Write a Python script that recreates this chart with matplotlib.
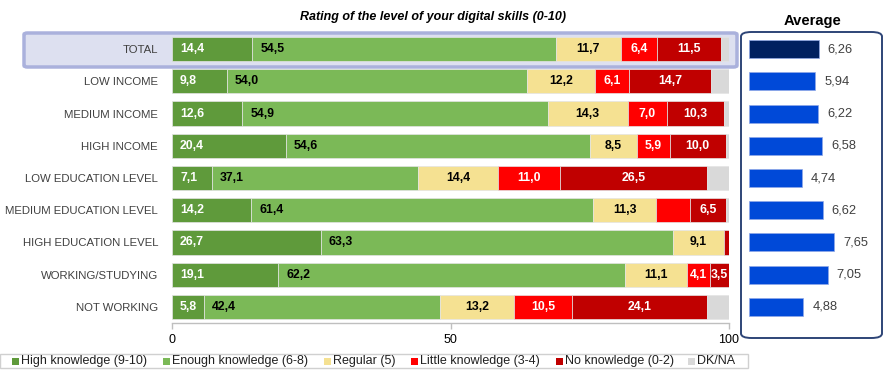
import matplotlib
matplotlib.use("Agg")
import matplotlib.pyplot as plt
from matplotlib.patches import FancyBboxPatch, Rectangle

plt.rcParams['font.family'] = ['Liberation Sans', 'DejaVu Sans']

categories = ["TOTAL", "LOW INCOME", "MEDIUM INCOME", "HIGH INCOME", "LOW EDUCATION LEVEL",
              "MEDIUM EDUCATION LEVEL", "HIGH EDUCATION LEVEL", "WORKING/STUDYING", "NOT WORKING"]
series_names = ["High knowledge (9-10)", "Enough knowledge (6-8)", "Regular (5)",
                "Little knowledge (3-4)", "No knowledge (0-2)", "DK/NA"]
high = [14.4, 9.8, 12.6, 20.4, 7.1, 14.2, 26.7, 19.1, 5.8]
enough = [54.5, 54.0, 54.9, 54.6, 37.1, 61.4, 63.3, 62.2, 42.4]
regular = [11.7, 12.2, 14.3, 8.5, 14.4, 11.3, 9.1, 11.1, 13.2]
little = [6.4, 6.1, 7.0, 5.9, 11.0, 6.1, 0.0, 4.1, 10.5]
noknow = [11.5, 14.7, 10.3, 10.0, 26.5, 6.5, 0.9, 3.5, 24.1]
dkna = [1.5, 3.2, 0.9, 0.6, 3.9, 0.5, 0.0, 0.0, 4.0]
average = [6.26, 5.94, 6.22, 6.58, 4.74, 6.62, 7.65, 7.05, 4.88]
x_ticks = [0, 50, 100]

series = [high, enough, regular, little, noknow, dkna]
colors = ["#5f9a3b", "#7bb957", "#f5e192", "#ff0000", "#c00000", "#d9d9d9"]
text_colors = ["white", "black", "black", "white", "white", None]
left_aligned = [True, True, False, False, False, False]
hidden = {(5, 3), (6, 3), (6, 4)}

W, H = 886, 376
fig = plt.figure(figsize=(W / 100, H / 100), dpi=100)

def fx(px):
    return px / W

def fy(py):
    return 1 - py / H

# TOTAL highlight box
hl = FancyBboxPatch((fx(24), fy(67)), fx(737) - fx(24), fy(33) - fy(67),
                    boxstyle="round,pad=0,rounding_size=0.004", transform=fig.transFigure,
                    facecolor="#dde0f0", edgecolor="#aab1dc", linewidth=2.5, zorder=-5)
fig.add_artist(hl)

# Average panel box
ab = FancyBboxPatch((fx(741), fy(338)), fx(882) - fx(741), fy(32) - fy(338),
                    boxstyle="round,pad=0,rounding_size=0.012", transform=fig.transFigure,
                    facecolor="white", edgecolor="#2e4577", linewidth=1.4, zorder=-5)
fig.add_artist(ab)

ax = fig.add_axes([fx(172), fy(323), fx(729) - fx(172), fy(33) - fy(323)])
ax.set_facecolor("none")
n = len(categories)
ypos = list(range(n))
lefts = [0.0] * n
for s, (vals, col) in enumerate(zip(series, colors)):
    ax.barh(ypos, vals, left=lefts, height=0.75, color=col, edgecolor="#e4e4e4",
            linewidth=0.5, zorder=2)
    if text_colors[s] is not None:
        for i in range(n):
            v = vals[i]
            if v <= 0 or (i, s) in hidden:
                continue
            lab = f"{v:.1f}".replace(".", ",")
            if left_aligned[s]:
                ax.annotate(lab, xy=(lefts[i], i), xytext=(5.8, 0), textcoords="offset points",
                            ha="left", va="center", color=text_colors[s], fontsize=8.8,
                            fontweight="bold", zorder=3)
            else:
                ax.text(lefts[i] + v / 2, i, lab, ha="center", va="center",
                        color=text_colors[s], fontsize=8.8, fontweight="bold", zorder=3)
    lefts = [l + v for l, v in zip(lefts, vals)]

ax.set_xlim(0, 100)
ax.set_ylim(n - 0.5, -0.5)
ax.set_yticks(ypos)
ax.set_yticklabels(categories, fontsize=8.2, color="#404040")
ax.tick_params(axis="y", length=0, pad=10)
ax.set_xticks(x_ticks)
ax.set_xticklabels([str(t) for t in x_ticks], fontsize=9)
ax.tick_params(axis="x", length=4, color="#bfbfbf", width=1, pad=4)
for side in ["top", "right", "left"]:
    ax.spines[side].set_visible(False)
ax.spines["bottom"].set_color("#bfbfbf")
ax.spines["bottom"].set_linewidth(1)

# Average axes
ax2 = fig.add_axes([fx(749), fy(323), fx(880) - fx(749), fy(33) - fy(323)])
ax2.set_facecolor("none")
avg_colors = ["#002060"] + ["#0049d8"] * (n - 1)
ax2.barh(ypos, average, height=0.56, color=avg_colors, edgecolor="#8fa8e8", linewidth=0.5)
for i, v in enumerate(average):
    ax2.annotate(f"{v:.2f}".replace(".", ","), xy=(v, i), xytext=(6.5, 0),
                 textcoords="offset points", ha="left", va="center",
                 fontsize=9.3, color="#404040")
ax2.set_xlim(0, 131 / 11.15)
ax2.set_ylim(n - 0.5, -0.5)
ax2.axis("off")

fig.text(fx(812), fy(21), "Average", ha="center", va="center", fontsize=10.6,
         fontweight="bold", color="black")
fig.text(fx(433), fy(17), "Rating of the level of your digital skills (0-10)", ha="center",
         va="center", fontsize=9, fontweight="bold", fontstyle="italic", color="black")

# Legend
leg_y = 361
fig.add_artist(Rectangle((fx(0), fy(368)), fx(748), fy(354) - fy(368), transform=fig.transFigure,
                         facecolor="white", edgecolor="#d0d0d0", linewidth=1))
marker_x = [12, 163, 324, 411, 556, 688]
for name, col, mx in zip(series_names, colors, marker_x):
    fig.add_artist(Rectangle((fx(mx), fy(leg_y + 3.5)), fx(7), fy(leg_y - 3.5) - fy(leg_y + 3.5),
                             transform=fig.transFigure, facecolor=col, edgecolor="none"))
    fig.text(fx(mx + 9), fy(leg_y), name, ha="left", va="center", fontsize=9, color="#202020")

fig.savefig("out.png", dpi=100)
